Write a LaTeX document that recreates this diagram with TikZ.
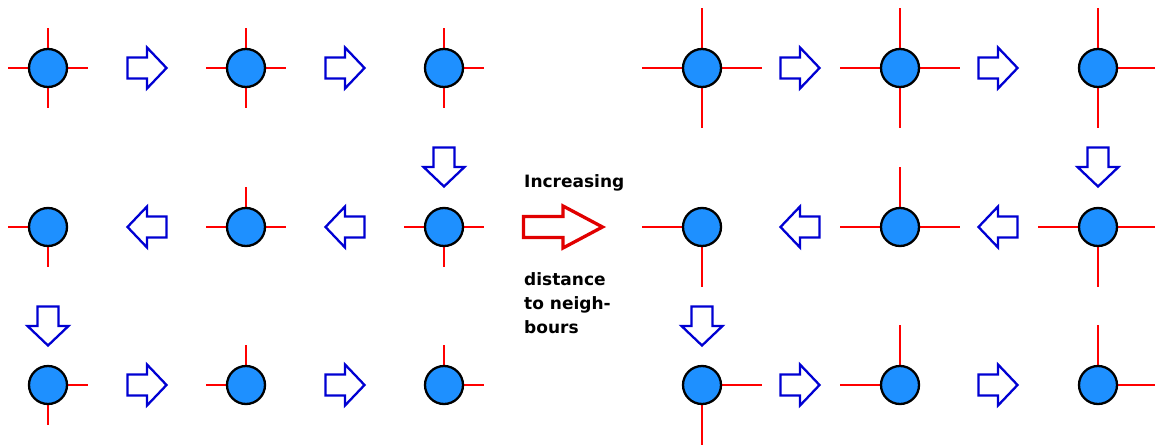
\documentclass[tikz,border=0pt]{standalone}
\usepackage{fontspec}
\setmainfont{DejaVu Sans}
\definecolor{ballblue}{RGB}{30,144,255}
\definecolor{arrblue}{RGB}{0,0,210}
\definecolor{arrred}{RGB}{225,0,0}
\newcommand\stubN[2]{\draw[stub] (#1) -- ++(0,-#2);}
\newcommand\stubS[2]{\draw[stub] (#1) -- ++(0,#2);}
\newcommand\stubE[2]{\draw[stub] (#1) -- ++(#2,0);}
\newcommand\stubW[2]{\draw[stub] (#1) -- ++(-#2,0);}
\newcommand\barrow[3]{\draw[blockarr,shift={(#1,#2)},rotate=#3] (-19.5,-10.5) -- (0,-10.5) -- (0,-20.5) -- (19.5,0) -- (0,20.5) -- (0,10.5) -- (-19.5,10.5) -- cycle;}
\begin{document}
\begin{tikzpicture}[x=1pt,y=-1pt,
  ball/.style={circle,draw=black,line width=2.3pt,fill=ballblue,minimum size=38pt,inner sep=0pt},
  stub/.style={draw=red,line width=2.3pt},
  blockarr/.style={draw=arrblue,line width=2.3pt,line join=miter},
  bigarr/.style={draw=arrred,line width=3.3pt,line join=miter},
  lbl/.style={font=\bfseries\fontsize{17}{24}\selectfont,anchor=base west,inner sep=0pt}]
\useasboundingbox (0,0) rectangle (1155,444);
% centres
\foreach \r/\y in {1/68,2/227,3/385}{
  \foreach \c/\x in {1/48,2/246,3/444}{\coordinate (a\r\c) at (\x,\y);}
  \foreach \c/\x in {1/702,2/900,3/1098}{\coordinate (b\r\c) at (\x,\y);}
}
% left stubs (length 40)
\stubN{a11}{40}\stubE{a11}{40}\stubS{a11}{40}\stubW{a11}{40}
\stubN{a12}{40}\stubE{a12}{40}\stubS{a12}{40}\stubW{a12}{40}
\stubN{a13}{40}\stubE{a13}{40}\stubS{a13}{40}
\stubW{a21}{40}\stubS{a21}{40}
\stubN{a22}{40}\stubW{a22}{40}\stubE{a22}{40}
\stubW{a23}{40}\stubE{a23}{40}\stubS{a23}{40}
\stubE{a31}{40}\stubS{a31}{40}
\stubN{a32}{40}\stubW{a32}{40}
\stubN{a33}{40}\stubE{a33}{40}
% right stubs (length 60)
\stubN{b11}{60}\stubE{b11}{60}\stubS{b11}{60}\stubW{b11}{60}
\stubN{b12}{60}\stubE{b12}{60}\stubS{b12}{60}\stubW{b12}{60}
\stubN{b13}{60}\stubE{b13}{60}\stubS{b13}{60}
\stubW{b21}{60}\stubS{b21}{60}
\stubN{b22}{60}\stubW{b22}{60}\stubE{b22}{60}
\stubW{b23}{60}\stubE{b23}{60}\stubS{b23}{60}
\stubE{b31}{60}\stubS{b31}{60}
\stubN{b32}{60}\stubW{b32}{60}
\stubN{b33}{60}\stubE{b33}{60}
% balls
\foreach \r in {1,2,3}{\foreach \c in {1,2,3}{
  \node[ball] (A\r\c) at (a\r\c) {};
  \node[ball] (B\r\c) at (b\r\c) {};
}}
% blue arrows
\barrow{147}{68}{0}\barrow{345}{68}{0}
\barrow{444}{167}{-90}
\barrow{345}{227}{180}\barrow{147}{227}{180}
\barrow{48}{326}{-90}
\barrow{147}{385}{0}\barrow{345}{385}{0}
\barrow{800}{68}{0}\barrow{998}{68}{0}
\barrow{1098}{167}{-90}
\barrow{998}{227}{180}\barrow{800}{227}{180}
\barrow{702}{326}{-90}
\barrow{800}{385}{0}\barrow{998}{385}{0}
% red arrow
\draw[bigarr] (523.5,216.5) -- (563,216.5) -- (563,206) -- (602.5,227) -- (563,248) -- (563,237.5) -- (523.5,237.5) -- cycle;
% labels
\node[lbl] (t1) at (524,187) {Increasing};
\node[lbl] (t2) at (524,285) {distance};
\node[lbl] (t3) at (524,309) {to neigh-};
\node[lbl] (t4) at (524,333) {bours};
\end{tikzpicture}
\end{document}
